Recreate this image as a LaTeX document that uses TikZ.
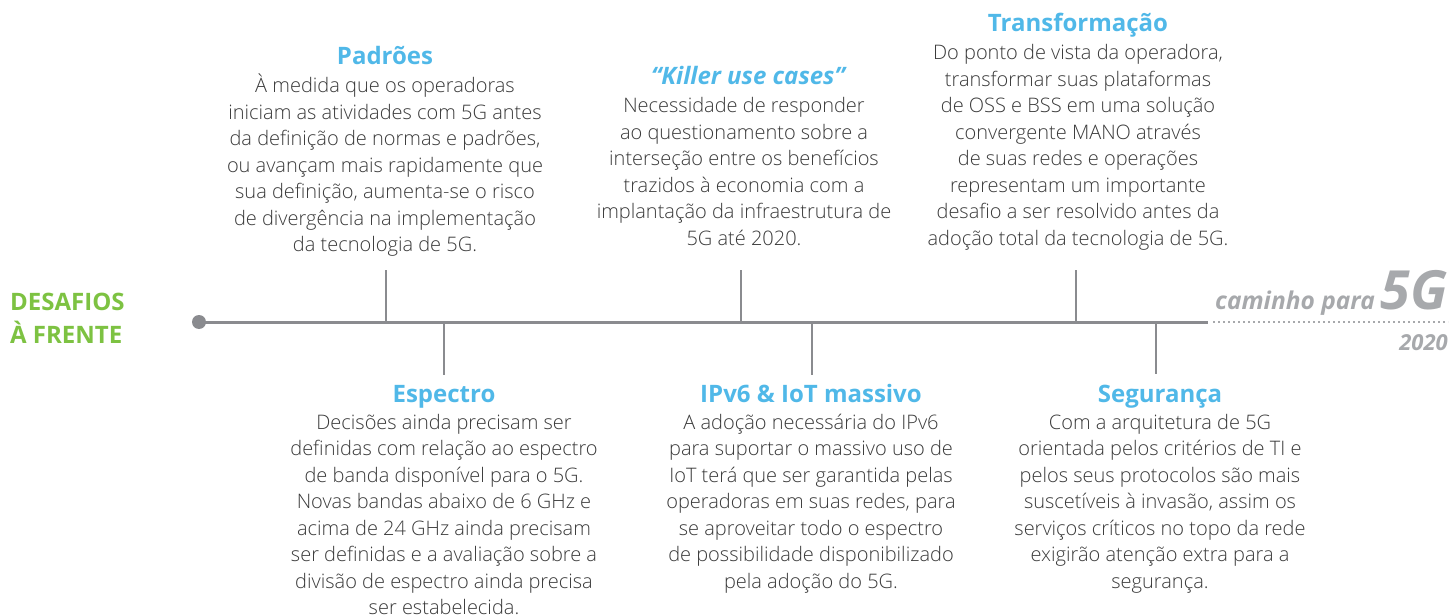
\documentclass[tikz,border=0pt]{standalone}
\usepackage{fontspec}
\setmainfont{Open Sans}
\newfontfamily\osl{Open Sans Light}
\definecolor{hblue}{RGB}{80,184,232}
\definecolor{tgray}{RGB}{58,58,58}
\definecolor{lgray}{RGB}{138,139,143}
\definecolor{cgray}{RGB}{167,169,172}
\definecolor{dgreen}{RGB}{125,194,66}
\begin{document}
\begin{tikzpicture}[x=1pt,y=-1pt,
  head/.style={anchor=base, inner sep=0pt, font=\fontsize{24}{26}\selectfont\bfseries, text=hblue},
  body/.style={anchor=base, inner sep=0pt, font=\osl\fontsize{20}{26.5}\selectfont, text=tgray},
  tickline/.style={draw=lgray, line width=1.5pt},
  road/.style={draw=lgray, line width=3pt},
  side/.style={anchor=base west, inner sep=0pt, font=\fontsize{24}{26}\selectfont\bfseries, text=dgreen},
  way/.style={anchor=base east, inner sep=0pt, text=cgray},
]
\useasboundingbox (0,0) rectangle (1452,615);
\clip (0,0) rectangle (1452,615);

% timeline
\coordinate (start) at (199,322);
\coordinate (stop) at (1208,322);
\coordinate (dstart) at (1213,322);
\coordinate (dstop) at (1448,322);
\draw[road] (start) -- (stop);
\fill[lgray] (start) circle (7);
\draw[cgray, line width=2pt, dash pattern=on 2pt off 3pt] (dstart) -- (dstop);

% ticks
\coordinate (b1) at (386,322); \coordinate (u1) at (386,270);
\coordinate (b2) at (444,322); \coordinate (u2) at (444,375);
\coordinate (b3) at (741,322); \coordinate (u3) at (741,270);
\coordinate (b4) at (812,322); \coordinate (u4) at (812,375);
\coordinate (b5) at (1076,322); \coordinate (u5) at (1076,270);
\coordinate (b6) at (1156,322); \coordinate (u6) at (1156,374);
\foreach \i in {1,...,6} { \draw[tickline] (b\i) -- (u\i); }

% left label
\node[side] (des1) at (10,310) {DESAFIOS};
\node[side] (des2) at (10,343) {À FRENTE};

% right label
\node[way, font=\fontsize{54}{60}\selectfont\bfseries\itshape] (fiveg) at (1448,309) {5G};
\node[way, font=\fontsize{24.5}{28}\selectfont\bfseries\itshape] (cam) at (1375,309) {caminho para};
\node[way, font=\fontsize{22}{26}\selectfont\bfseries\itshape] (year) at (1448,350) {2020};

% Padrões
\node[head] (h1) at (385,65) {Padrões};
\node[body] (t1) at (385,93) {\begin{tabular}[t]{@{}c@{}}
À medida que os operadoras\\
iniciam as atividades com 5G antes\\
da definição de normas e padrões,\\
ou avançam mais rapidamente que\\
sua definição, aumenta-se o risco\\
de divergência na implementação\\
da tecnologia de 5G.
\end{tabular}};

% Killer use cases
\node[head, font=\fontsize{24}{26}\selectfont\bfseries\itshape] (h3) at (748,85) {“Killer use cases”};
\node[body] (t3) at (744,113) {\begin{tabular}[t]{@{}c@{}}
Necessidade de responder\\
ao questionamento sobre a\\
interseção entre os benefícios\\
trazidos à economia com a\\
implantação da infraestrutura de\\
5G até 2020.
\end{tabular}};

% Transformação
\node[head] (h5) at (1078,32) {Transformação};
\node[body] (t5) at (1078,60) {\begin{tabular}[t]{@{}c@{}}
Do ponto de vista da operadora,\\
transformar suas plataformas\\
de OSS e BSS em uma solução\\
convergente MANO através\\
de suas redes e operações\\
representam um importante\\
desafio a ser resolvido antes da\\
adoção total da tecnologia de 5G.
\end{tabular}};

% Espectro
\node[head] (h2) at (444,402) {Espectro};
\node[body] (t2) at (444,429) {\begin{tabular}[t]{@{}c@{}}
Decisões ainda precisam ser\\
definidas com relação ao espectro\\
de banda disponível para o 5G.\\
Novas bandas abaixo de 6 GHz e\\
acima de 24 GHz ainda precisam\\
ser definidas e a avaliação sobre a\\
divisão de espectro ainda precisa\\
ser estabelecida.
\end{tabular}};

% IPv6
\node[head] (h4) at (811,402) {IPv6 \& IoT massivo};
\node[body] (t4) at (811,429) {\begin{tabular}[t]{@{}c@{}}
A adoção necessária do IPv6\\
para suportar o massivo uso de\\
IoT terá que ser garantida pelas\\
operadoras em suas redes, para\\
se aproveitar todo o espectro\\
de possibilidade disponibilizado\\
pela adoção do 5G.
\end{tabular}};

% Segurança
\node[head] (h6) at (1160,402) {Segurança};
\node[body] (t6) at (1160,429) {\begin{tabular}[t]{@{}c@{}}
Com a arquitetura de 5G\\
orientada pelos critérios de TI e\\
pelos seus protocolos são mais\\
suscetíveis à invasão, assim os\\
serviços críticos no topo da rede\\
exigirão atenção extra para a\\
segurança.
\end{tabular}};
\end{tikzpicture}
\end{document}
